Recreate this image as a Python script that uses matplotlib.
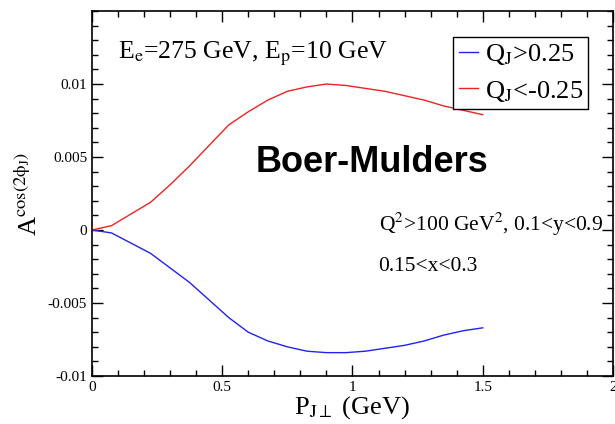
import matplotlib
matplotlib.use("Agg")
import matplotlib.pyplot as plt
from matplotlib.ticker import MultipleLocator

OUTPUT_FILE = "out.png"

# Transverse momentum of the jet (GeV)
p_perp = [0.0, 0.075, 0.15, 0.225, 0.3, 0.375, 0.45, 0.525, 0.6, 0.675,
          0.75, 0.825, 0.9, 0.975, 1.05, 1.125, 1.2, 1.275, 1.35, 1.425, 1.5]

# cos(2 phi_J) asymmetry for the two jet-charge cuts
asym_pos = [0.0, -0.0002, -0.0009, -0.0016, -0.0026, -0.0036, -0.0048, -0.0060,
            -0.0070, -0.0076, -0.0080, -0.0083, -0.0084, -0.0084, -0.0083,
            -0.0081, -0.0079, -0.0076, -0.0072, -0.0069, -0.0067]
asym_neg = [0.0, 0.0003, 0.0011, 0.0019, 0.0031, 0.0044, 0.0058, 0.0072,
            0.0081, 0.0089, 0.0095, 0.0098, 0.0100, 0.0099, 0.0097,
            0.0095, 0.0092, 0.0089, 0.0085, 0.0082, 0.0079]

labels = [r"Q$_\mathrm{J}$>0.25", r"Q$_\mathrm{J}$<-0.25"]

plt.rcParams["font.family"] = ["Liberation Serif", "DejaVu Serif"]
plt.rcParams["mathtext.fontset"] = "stix"


def make_plot():
    fig = plt.figure(figsize=(6.15, 4.24), dpi=100)
    ax = fig.add_axes([0.1496, 0.1132, 0.8471, 0.8608])

    ax.plot(p_perp, asym_pos, color="#2222ee", lw=1.0, label=labels[0])
    ax.plot(p_perp, asym_neg, color="#ee2222", lw=1.0, label=labels[1])

    ax.set_xlim(0, 2)
    ax.set_ylim(-0.01, 0.015)
    ax.xaxis.set_minor_locator(MultipleLocator(0.1))
    ax.yaxis.set_minor_locator(MultipleLocator(0.001))
    ax.set_xticks([0, 0.5, 1, 1.5, 2], ["0", "0.5", "1", "1.5", "2"])
    ax.set_yticks([-0.01, -0.005, 0, 0.005, 0.01],
                  ["-0.01", "-0.005", "0", "0.005", "0.01"])
    ax.tick_params(which="both", direction="in", top=True, right=True,
                   labelsize=11, width=1.0)
    ax.tick_params(which="major", length=8)
    ax.tick_params(which="minor", length=4)
    for s in ax.spines.values():
        s.set_linewidth(1.2)

    ax.set_xlabel(r"P$_{\mathrm{J}\perp}$ (GeV)", fontsize=19, labelpad=0)
    ax.set_ylabel(r"A$^{\mathrm{cos(2\phi_J)}}$", fontsize=19, labelpad=4)

    # run conditions and cuts
    ax.text(0.1, 0.0121, r"E$_\mathrm{e}$=275 GeV, E$_\mathrm{p}$=10 GeV",
            fontsize=18.5, va="center")
    ax.text(1.073, 0.0046, "Boer-Mulders", fontsize=26, fontweight="bold",
            family="Liberation Sans", ha="center", va="center")
    ax.text(1.1, 0.0004, r"Q$^2$>100 GeV$^2$, 0.1<y<0.9", fontsize=15.5,
            va="center")
    ax.text(1.1, -0.0025, "0.15<x<0.3", fontsize=15.5, va="center")

    leg = ax.legend(loc="upper right", bbox_to_anchor=(0.953, 0.93),
                    fontsize=19, handlelength=0.75, handletextpad=0.25,
                    borderpad=0.2, labelspacing=0.45, fancybox=False,
                    framealpha=1, borderaxespad=0)
    leg.get_frame().set_edgecolor("black")
    leg.get_frame().set_linewidth(1.0)

    fig.savefig(OUTPUT_FILE, dpi=100)
    plt.close(fig)


if __name__ == "__main__":
    make_plot()
